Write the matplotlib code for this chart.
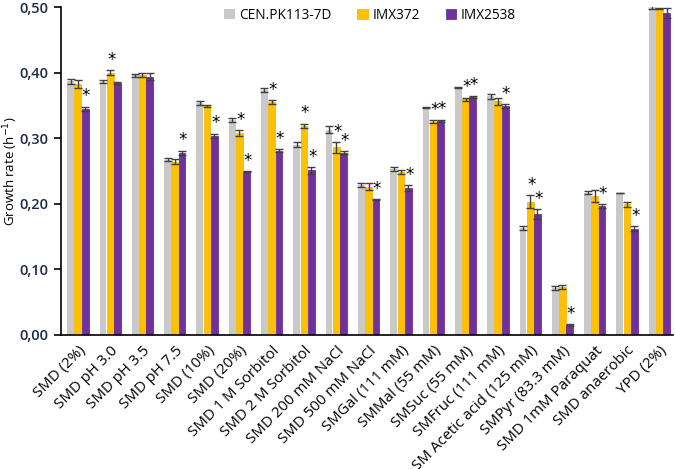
import numpy as np
import matplotlib.pyplot as plt

plt.rcParams['font.family'] = ['Open Sans', 'DejaVu Sans']

conditions = ['SMD (2%)', 'SMD pH 3.0', 'SMD pH 3.5', 'SMD pH 7.5', 'SMD (10%)',
              'SMD (20%)', 'SMD 1 M Sorbitol', 'SMD 2 M Sorbitol', 'SMD 200 mM NaCl',
              'SMD 500 mM NaCl', 'SMGal (111 mM)', 'SMMal (55 mM)', 'SMSuc (55 mM)',
              'SMFruc (111 mM)', 'SM Acetic acid (125 mM)', 'SMPyr (83.3 mM)',
              'SMD 1mM Paraquat', 'SMD anaerobic', 'YPD (2%)']

cen = [0.387, 0.386, 0.396, 0.267, 0.354, 0.328, 0.374, 0.290, 0.313,
       0.228, 0.253, 0.347, 0.377, 0.364, 0.163, 0.071, 0.217, 0.217, 0.499]
imx372 = [0.383, 0.400, 0.397, 0.264, 0.349, 0.308, 0.355, 0.319, 0.286,
          0.226, 0.249, 0.325, 0.359, 0.356, 0.203, 0.073, 0.212, 0.199, 0.498]
imx2538 = [0.345, 0.384, 0.394, 0.278, 0.304, 0.249, 0.281, 0.251, 0.278,
           0.206, 0.224, 0.326, 0.363, 0.349, 0.184, 0.015, 0.196, 0.162, 0.491]

cen_err = [0.004, 0.002, 0.002, 0.002, 0.003, 0.003, 0.003, 0.004, 0.005,
           0.003, 0.003, 0.001, 0.001, 0.004, 0.003, 0.003, 0.002, 0.000, 0.002]
imx372_err = [0.006, 0.004, 0.003, 0.004, 0.002, 0.004, 0.003, 0.003, 0.008,
              0.005, 0.003, 0.002, 0.003, 0.005, 0.010, 0.003, 0.009, 0.004, 0.001]
imx2538_err = [0.003, 0.002, 0.006, 0.003, 0.003, 0.001, 0.002, 0.005, 0.002,
               0.001, 0.004, 0.002, 0.002, 0.003, 0.008, 0.001, 0.003, 0.004, 0.008]

# significance marks (1 = asterisk above bar)
star372 = [0, 1, 0, 0, 0, 1, 1, 1, 1, 0, 0, 1, 1, 0, 1, 0, 0, 0, 0]
star2538 = [1, 0, 0, 1, 1, 1, 1, 1, 1, 1, 1, 1, 1, 1, 1, 1, 1, 1, 0]

x = np.arange(len(conditions))
w = 0.21
off = 0.225

fig = plt.figure(figsize=(6.75, 4.69), dpi=100)
ax = fig.add_axes([0.09, 0.286, 0.907, 0.699])

err_kw = dict(ecolor='#404040', capsize=3, elinewidth=1, capthick=1)
ax.bar(x - off, cen, w, yerr=cen_err, color='#c9c9c9', label='CEN.PK113-7D', error_kw=err_kw)
ax.bar(x, imx372, w, yerr=imx372_err, color='#ffc000', edgecolor='#f0b000', linewidth=0.5,
       label='IMX372', error_kw=err_kw)
ax.bar(x + off, imx2538, w, yerr=imx2538_err, color='#7030a0', edgecolor='#5a2080', linewidth=0.5,
       label='IMX2538', error_kw=err_kw)

for i in range(len(conditions)):
    if star372[i]:
        ax.text(x[i] + 0.03, imx372[i] + imx372_err[i] + 0.002, '*', ha='center', va='bottom',
                fontsize=12, family='DejaVu Sans')
    if star2538[i]:
        ax.text(x[i] + off + 0.03, imx2538[i] + imx2538_err[i] + 0.002, '*', ha='center', va='bottom',
                fontsize=12, family='DejaVu Sans')

ax.set_xlim(-0.53, 18.42)
ax.set_ylim(0, 0.5)
ticks = np.arange(0, 0.51, 0.1)
ax.set_yticks(ticks)
ax.set_yticklabels([f'{v:.2f}'.replace('.', ',') for v in ticks],
                   fontsize=10.5, color='#1f2a44', fontweight='semibold')
ax.set_xticks(x)
ax.set_xticklabels(conditions, rotation=45, ha='right', rotation_mode='anchor', fontsize=10.8)
ax.tick_params(axis='x', length=0, pad=6)
ax.tick_params(axis='y', length=5, width=1.2, pad=4)
ax.set_ylabel('Growth rate (h$^{-1}$)', fontsize=9.5)
ax.yaxis.set_label_coords(-0.066, 0.5)

for s in ['top', 'right']:
    ax.spines[s].set_visible(False)
ax.spines['left'].set_linewidth(1.2)
ax.spines['bottom'].set_linewidth(1.2)

ax.legend(loc='upper center', bbox_to_anchor=(0.505, 1.035), ncol=3, frameon=False,
          fontsize=9.8, handlelength=0.8, handleheight=0.8, handletextpad=0.3, columnspacing=1.9)

fig.savefig('out.png', dpi=100)
